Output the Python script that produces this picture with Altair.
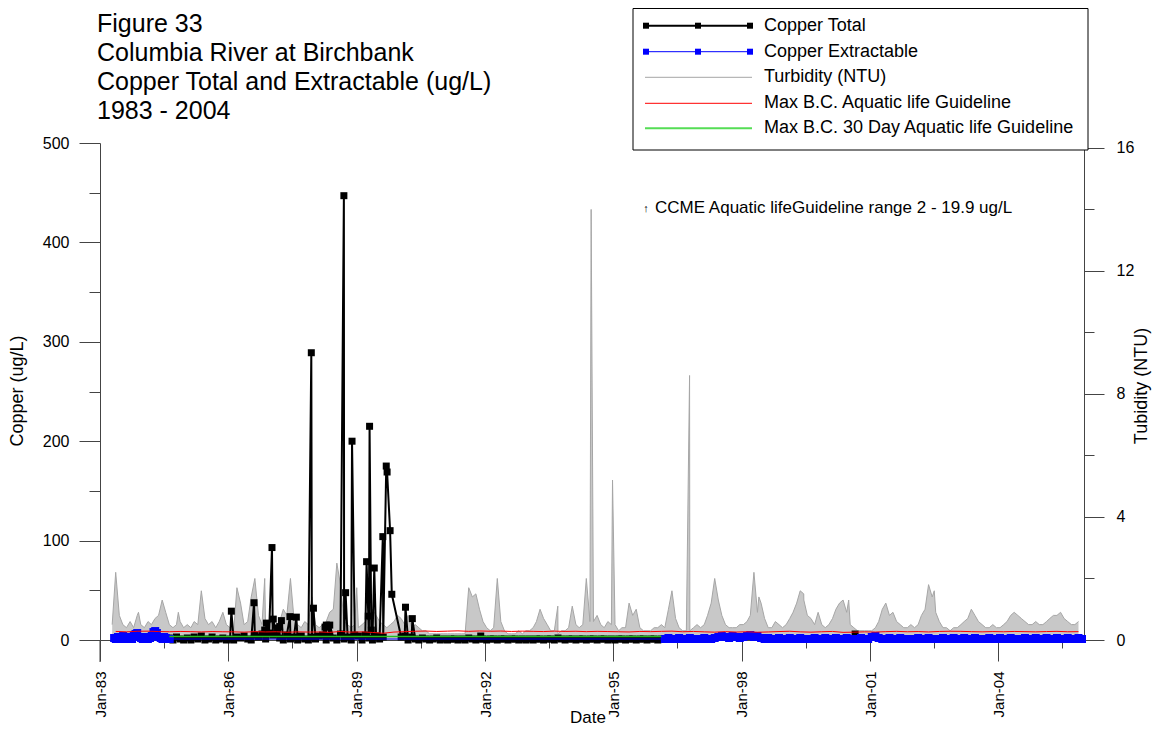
import altair as alt
import pandas as pd

# ---------------------------------------------------------------- data
# Copper Total (ug/L): routine monthly results, first month = Aug 1984 (None = no sample)
cu_total_low_first = (1984, 8)
cu_total_low = [
    2, 0, 3, 1, 0,                                   # 1984 Aug-Dec
    2, 0, 3, 1, 4, 0, 1, 3, 0, 1, 2, 0,              # 1985
    1, 0, 3, 2, 4, 1, 0, 5, 3, 6, 1, 7,              # 1986
    5, 6, 2, 0, 5, 1, 3, 0, 4, 1, 0, 3,              # 1987
    1, 4, 5, 0, 4, 2, 0, 6, 1, 3, 0, 5,              # 1988
    4, 0, 5, 2, 0, 4, 1, 3, None, None, None, None,  # 1989
    3, 4, 0, 3, 1, 0, 2, 1, 0, 1, 2, 0,              # 1990
    1, 0, 1, 1, 0, 1, 0, 2, 1, 0, 1, 1,              # 1991
    0, 1, 1, 0, 1, 1, 0, 1, 1, 0, 1, 0,              # 1992
    1, 0, 1, 1, 0, 1, 1, 0, 2, 1, 0, 1,              # 1993
    1, 0, 1, 1, 0, 1, 1, 0, 1, 1, 0, 1,              # 1994
    0, 1, 1, 0, 1, 1, 0, 1, 1, 0, 1, 1,              # 1995
    0, 1,                                            # 1996 Jan-Feb
]
# Copper Total peaks (decimal year, ug/L)
cu_total_peak_year = [1986.07, 1986.60, 1986.85, 1986.89, 1987.02, 1987.05, 1987.15,
                      1987.20, 1987.24, 1987.44, 1987.59, 1987.94, 1987.99, 1988.26,
                      1988.29, 1988.33, 1988.37, 1988.70, 1988.74, 1988.89, 1989.23,
                      1989.27, 1989.30, 1989.34, 1989.41, 1989.61, 1989.69, 1989.71,
                      1989.78, 1989.82, 1990.14, 1990.30, 1991.90, 2000.65]
cu_total_peak_val = [29, 37.5, 10, 17, 93, 21, 12,
                     13.5, 19.5, 23.5, 23, 289, 32, 13,
                     15, 14, 15, 447, 47.6, 200, 78.8,
                     24, 215, 10, 72.4, 104, 175, 169,
                     110, 46, 33, 21.5, 4, 6]

# Copper Extractable (ug/L): 1983-84 results (decimal year)
cu_ext_early_year = [1983.33, 1983.37, 1983.42, 1983.46, 1983.50, 1983.54, 1983.58, 1983.63,
                     1983.67, 1983.71, 1983.75, 1983.79, 1983.83, 1983.87, 1983.92, 1983.96,
                     1984.00, 1984.04, 1984.08, 1984.12, 1984.17, 1984.21, 1984.25, 1984.29,
                     1984.33, 1984.37, 1984.42, 1984.46, 1984.50, 1984.54, 1984.58, 1984.63]
cu_ext_early_val = [2, 1, 3, 1, 2, 4, 2, 1,
                    3, 2, 1, 4, 6, 7, 3, 2,
                    1, 2, 3, 1, 2, 4, 8, 9,
                    7, 3, 2, 1, 3, 2, 1, 1]
# Copper Extractable monthly results, first month = Mar 1996
cu_ext_late_first = (1996, 3)
cu_ext_late = [
    1, 2, 1, 1, 2, 1, 1, 2, 1, 1,                    # 1996 Mar-Dec
    1, 2, 1, 1, 2, 3, 4, 3, 2, 4, 3, 2,              # 1997
    3, 4, 5, 3, 4, 2, 1, 2, 1, 1, 2, 1,              # 1998
    1, 2, 1, 1, 2, 1, 1, 1, 2, 1, 1, 2,              # 1999
    1, 1, 2, 1, 1, 2, 1, 1, 1, 2, 1, 1,              # 2000
    3, 4, 2, 1, 1, 2, 1, 1, 2, 1, 1, 1,              # 2001
    1, 2, 1, 1, 2, 1, 1, 1, 2, 1, 1, 2,              # 2002
    1, 1, 2, 1, 1, 2, 1, 1, 1, 2, 1, 1,              # 2003
    2, 1, 1, 2, 1, 1, 1, 2, 1, 1, 2, 1,              # 2004
    1, 2, 1, 1, 2, 1, 1, 2, 1, 1, 2, 1,              # 2005
]

# Turbidity (NTU): monthly, first month = Apr 1983
turb_first = (1983, 4)
turb_monthly = [
    0.5, 2.2, 0.8, 0.5, 0.4, 0.6, 0.4, 0.8, 0.5,                 # 1983 Apr-Dec
    0.4, 0.6, 0.5, 0.7, 0.8, 1.3, 0.9, 0.5, 0.4, 0.5, 0.6, 0.4,  # 1984
    0.5, 0.4, 0.6, 0.5, 1.6, 0.7, 0.5, 0.6, 0.4, 0.6, 0.9, 0.5,  # 1985
    0.4, 0.3, 1.7, 1.2, 0.5, 0.6, 1.4, 2.0, 0.8, 0.5, 0.4, 0.6,  # 1986
    0.5, 0.4, 0.6, 1.0, 0.8, 2.0, 0.7, 0.5, 0.4, 0.6, 0.5, 1.4,  # 1987
    0.5, 0.4, 0.5, 0.6, 0.9, 1.0, 2.5, 1.8, 0.6, 0.5, 0.4, 0.5,  # 1988
    0.4, 0.5, 0.6, 0.7, 1.0, 0.8, 0.6, 0.5, 0.4, 0.5, 0.6, 0.8,  # 1989
    0.7, 0.5, 0.8, 0.4, 0.5, 0.4, 0.3, 0.3, 0.2, 0.2, 0.2, 0.2,  # 1990
    0.2, 0.2, 0.2, 0.2, 0.2, 0.2, 0.2, 1.7, 1.4, 1.5, 1.0, 0.6,  # 1991
    0.4, 0.3, 0.4, 2.0, 0.6, 0.3, 0.2, 0.2, 0.2, 0.3, 0.2, 0.3,  # 1992
    0.3, 0.4, 0.6, 1.0, 0.7, 0.5, 0.3, 0.3, 0.2, 0.3, 0.3, 0.4,  # 1993
    1.1, 0.5, 0.4, 0.5, 2.0, 0.6, 0.6, 0.8, 0.5, 0.4, 0.6, 0.5,  # 1994
    0.5, 0.3, 0.4, 0.4, 1.2, 0.8, 1.0, 0.4, 0.3, 0.3, 0.3, 0.4,  # 1995
    0.4, 0.5, 0.4, 1.0, 1.6, 0.7, 0.4, 0.3, 0.3, 0.3, 0.4, 0.5,  # 1996
    0.4, 0.5, 0.8, 1.2, 2.0, 1.3, 0.8, 0.5, 0.4, 0.4, 0.4, 0.5,  # 1997
    0.5, 0.6, 0.8, 2.2, 0.9, 1.2, 0.7, 0.4, 0.4, 0.6, 0.5, 0.4,  # 1998
    0.5, 0.7, 0.9, 1.2, 1.6, 1.3, 0.8, 0.7, 0.5, 0.9, 0.5, 0.4,  # 1999
    0.5, 0.7, 1.0, 1.2, 1.3, 0.9, 0.5, 0.4, 0.3, 0.3, 0.3, 0.3,  # 2000
    0.3, 0.4, 0.6, 1.0, 1.2, 0.8, 0.9, 0.6, 0.5, 0.4, 0.4, 0.5,  # 2001
    0.4, 0.5, 0.8, 1.0, 1.8, 1.4, 0.9, 0.6, 0.4, 0.4, 0.3, 0.4,  # 2002
    0.4, 0.5, 0.6, 0.7, 1.0, 0.8, 0.6, 0.5, 0.4, 0.4, 0.5, 0.4,  # 2003
    0.4, 0.5, 0.6, 0.8, 0.9, 0.8, 0.7, 0.6, 0.5, 0.5, 0.6, 0.5,  # 2004
    0.5, 0.6, 0.7, 0.8, 0.8, 0.9, 0.7, 0.6, 0.5, 0.5, 0.6,       # 2005 Jan-Nov
]
# Narrow turbidity peaks between the monthly results (decimal year, NTU)
turb_peak_year = [1983.90, 1984.83, 1986.85, 1989.00, 1993.70, 1994.48, 1994.98, 1996.78,
                  1998.40, 1999.45, 2000.50, 2002.50]
turb_peak_val = [0.9, 0.9, 2.0, 1.7, 1.1, 14.0, 5.2, 8.6,
                 1.4, 1.5, 1.3, 1.6]

# Max B.C. Aquatic life Guideline (ug/L): quarterly, first quarter = Q2 1983
bc_max_first = (1983, 2)
bc_max = [
    8.6, 8.2, 8.8,
    8.9, 8.5, 8.3, 8.6,   8.4, 8.1, 8.5, 8.3,   8.2, 7.9, 8.4, 8.1,
    8.3, 7.8, 8.2, 8.0,   8.1, 7.7, 8.6, 7.9,   8.2, 7.6, 6.8, 8.0,
    8.4, 8.8, 9.0, 8.6,   8.9, 9.2, 8.7, 9.1,   8.8, 9.0, 8.6, 8.9,
    8.7, 8.5, 8.9, 8.6,   8.8, 8.4, 8.7, 8.5,   8.3, 8.1, 8.6, 8.4,
    8.7, 8.9, 8.3, 8.6,   8.2, 7.9, 8.4, 8.0,   8.3, 7.8, 8.1, 8.5,
    8.8, 8.2, 7.9, 8.3,   8.6, 7.7, 7.9, 8.2,   8.0, 8.4, 8.7, 8.3,
    8.5, 8.1, 8.6, 8.8,   8.7, 8.4, 8.2, 8.5,   8.3, 8.6, 8.4, 8.2,
    8.5, 8.7, 8.3, 8.4,
]
# Max B.C. 30 Day Aquatic life Guideline (ug/L): quarterly, first quarter = Q3 1984
bc_30_first = (1984, 3)
bc_30 = [
    3.5, 3.4,
    3.5, 3.4, 3.6, 3.5,   3.4, 3.5, 3.6, 3.4,   3.5, 3.6, 3.4, 3.5,
    3.6, 3.4, 3.5, 3.6,   3.5, 3.4, 3.5, 3.6,   3.5, 3.5, 3.4, 3.5,
    3.6, 3.5, 3.4, 3.5,   3.5, 3.6, 3.5, 3.4,   3.5, 3.4, 3.6, 3.5,
    3.4, 3.5, 3.5, 3.6,   3.5, 3.4, 3.5, 3.5,
    3.5,
]

title_lines = ["Figure 33", "Columbia River at Birchbank",
               "Copper Total and Extractable (ug/L)", "1983 - 2004"]
legend_labels = ["Copper Total", "Copper Extractable", "Turbidity (NTU)",
                 "Max B.C. Aquatic life Guideline", "Max B.C. 30 Day Aquatic life Guideline"]
note_text = "CCME Aquatic lifeGuideline range 2 - 19.9 ug/L"
major_years = [1983, 1986, 1989, 1992, 1995, 1998, 2001, 2004]
minor_years = [1984, 1987, 1990, 1993, 1996, 1999, 2002, 2005]
cu_ticks = [0, 100, 200, 300, 400, 500]
cu_minor = [50, 150, 250, 350, 450]
turb_ticks = [0, 4, 8, 12, 16]
turb_minor = [2, 6, 10, 14]


# ---------------------------------------------------------------- helpers
def from_decimal(y):
    yr = int(y)
    start, end = pd.Timestamp(yr, 1, 1), pd.Timestamp(yr + 1, 1, 1)
    return start + (end - start) * (y - yr)


def monthly(first, vals):
    y, m = first
    rows = []
    for v in vals:
        if v is not None:
            rows.append((pd.Timestamp(y, m, 15), v))
        m += 1
        if m > 12:
            y, m = y + 1, 1
    return rows


def quarterly(first, vals):
    y, q = first
    rows = []
    for v in vals:
        rows.append((pd.Timestamp(y, 3 * (q - 1) + 2, 15), v))
        q += 1
        if q > 4:
            y, q = y + 1, 1
    return rows


def frame(rows, col="value"):
    df = pd.DataFrame(rows, columns=["date", col]).sort_values("date")
    return df.reset_index(drop=True)


cu_total_df = frame(monthly(cu_total_low_first, cu_total_low)
                    + [(from_decimal(y), v) for y, v in zip(cu_total_peak_year, cu_total_peak_val)])
cu_ext_df = frame([(from_decimal(y), v) for y, v in zip(cu_ext_early_year, cu_ext_early_val)]
                  + monthly(cu_ext_late_first, cu_ext_late))
turb_df = frame(monthly(turb_first, turb_monthly)
                + [(from_decimal(y), v) for y, v in zip(turb_peak_year, turb_peak_val)], col="ntu")
bc_max_df = frame(quarterly(bc_max_first, bc_max))
bc_30_df = frame(quarterly(bc_30_first, bc_30))
one = pd.DataFrame({"k": [0]})

# ---------------------------------------------------------------- layout constants
W, H = 984, 497
FONT = "Liberation Sans"
AX = "#444444"

x_scale = alt.Scale(domain=[alt.DateTime(year=1983, month=1, date=1),
                            alt.DateTime(year=2006, month=1, date=1)])
cu_scale = alt.Scale(domain=[0, 500], nice=False, zero=False)
turb_scale = alt.Scale(domain=[0, 16.16], nice=False, zero=False)

x_axis_major = alt.Axis(values=[alt.DateTime(year=y, month=1, date=1) for y in major_years],
                        orient="bottom", format="%b-%y", labelAngle=270, labelAlign="right",
                        labelBaseline="middle", tickSize=21, labelPadding=10, labelFontSize=15,
                        labelFont=FONT, labelColor="black", domainColor=AX, tickColor=AX,
                        grid=False, title=None, labelOverlap=False)
x_axis_minor = alt.Axis(values=[alt.DateTime(year=y, month=7, date=1) for y in minor_years],
                        orient="bottom", tickSize=8, labels=False, domain=False, tickColor=AX,
                        grid=False, title=None)
cu_axis = alt.Axis(values=cu_ticks, orient="left", tickSize=21, labelPadding=10, labelFontSize=16,
                   labelFont=FONT, labelColor="black", domainColor=AX, tickColor=AX, grid=False,
                   title=None)
cu_axis_minor = alt.Axis(values=cu_minor, orient="left", tickSize=11, labels=False, domain=False,
                         tickColor=AX, grid=False, title=None)
turb_axis = alt.Axis(values=turb_ticks, orient="right", tickSize=20, labelPadding=12,
                     labelFontSize=16, labelFont=FONT, labelColor="black", domainColor=AX,
                     tickColor=AX, grid=False, title=None)
turb_axis_minor = alt.Axis(values=turb_minor, orient="right", tickSize=10, labels=False,
                           domain=False, tickColor=AX, grid=False, title=None)


def xe(axis=None):
    return alt.X("date:T", scale=x_scale, axis=axis)


# ---------------------------------------------------------------- data layers
turb_area = alt.Chart(turb_df).mark_area(color="#c8c8c8").encode(
    x=xe(), y=alt.Y("ntu:Q", scale=turb_scale, axis=turb_axis))
turb_line = alt.Chart(turb_df).mark_line(color="#a6a6a6", strokeWidth=1).encode(
    x=xe(), y=alt.Y("ntu:Q", scale=turb_scale, axis=turb_axis_minor))

tot_line = alt.Chart(cu_total_df).transform_filter("year(datum.date) < 1997").mark_line(
    color="black", strokeWidth=2).encode(
    x=xe(x_axis_major), y=alt.Y("value:Q", scale=cu_scale, axis=cu_axis))
tot_pts = alt.Chart(cu_total_df).mark_square(color="black", size=49, opacity=1).encode(
    x=xe(x_axis_minor), y=alt.Y("value:Q", scale=cu_scale, axis=cu_axis_minor))

ext_line = alt.Chart(cu_ext_df).mark_line(color="#0000ff", strokeWidth=1).encode(
    x=xe(), y=alt.Y("value:Q", scale=cu_scale, axis=None))
ext_pts = alt.Chart(cu_ext_df).mark_square(color="#0000ff", size=64, opacity=1).encode(
    x=xe(), y=alt.Y("value:Q", scale=cu_scale, axis=None))

g30_line = alt.Chart(bc_30_df).mark_line(color="#22bb22", strokeWidth=1.5).encode(
    x=xe(), y=alt.Y("value:Q", scale=cu_scale, axis=None))
max_line = alt.Chart(bc_max_df).mark_line(color="#ff0000", strokeWidth=1).encode(
    x=xe(), y=alt.Y("value:Q", scale=cu_scale, axis=None))


# ---------------------------------------------------------------- decorations
def text(t, x, y, size, align="left", baseline="alphabetic", angle=0):
    return alt.Chart(one).mark_text(text=t, align=align, baseline=baseline, fontSize=size,
                                    font=FONT, color="black", angle=angle).encode(
        x=alt.value(x), y=alt.value(y))


def hline(x1, x2, y, color, width):
    return alt.Chart(one).mark_rule(color=color, strokeWidth=width).encode(
        x=alt.value(x1), x2=alt.value(x2), y=alt.value(y))


def square(x, y, color):
    return alt.Chart(one).mark_square(color=color, size=36, opacity=1).encode(
        x=alt.value(x), y=alt.value(y))


axis_ext = alt.Chart(one).mark_rule(color=AX, strokeWidth=1).encode(
    x=alt.value(0), y=alt.value(H), y2=alt.value(H + 22))

deco = [axis_ext]
title_base = [-111, -82, -53, -24]
for t, yb in zip(title_lines, title_base):
    deco.append(text(t, -3, yb, 25))

deco.append(text("\u2191", 546, 66, 11, align="center", baseline="middle"))
deco.append(text(note_text, 555, 65, 17, baseline="middle"))

deco.append(text("Copper (ug/L)", -82, 248, 18, align="center", baseline="middle", angle=270))
deco.append(text("Tubidity (NTU)", 1042, 243, 18, align="center", baseline="middle", angle=270))
deco.append(text("Date", 488, 580, 17, align="center"))

deco.append(alt.Chart(one).mark_rect(fill="white", stroke="black", strokeWidth=1).encode(
    x=alt.value(533), x2=alt.value(988), y=alt.value(-134.5), y2=alt.value(7)))

leg_y = [-117.3, -91.3, -65.7, -39.7, -14.7]
leg_style = [("black", 2, True), ("#0000ff", 1, True), ("#a6a6a6", 1, False),
             ("#ff0000", 1, False), ("#55dd55", 2, False)]
for lab, yy, (col, sw, mk) in zip(legend_labels, leg_y, leg_style):
    deco.append(hline(545, 652, yy, col, sw))
    if mk:
        for mx in (546, 598, 650):
            deco.append(square(mx, yy, col))
    deco.append(text(lab, 664, yy, 18, baseline="middle"))

chart = alt.layer(
    turb_area, turb_line, tot_line, tot_pts, ext_line, ext_pts, g30_line, max_line, *deco
).resolve_scale(y="independent").resolve_axis(x="independent", y="independent").properties(
    width=W, height=H,
    autosize=alt.AutoSizeParams(type="none"),
    padding={"left": 92, "top": 135, "right": 68, "bottom": 88},
).configure(font=FONT).configure_view(strokeWidth=0, stroke="transparent")

chart.save("out.html", embed_options={"renderer": "svg", "actions": False})
